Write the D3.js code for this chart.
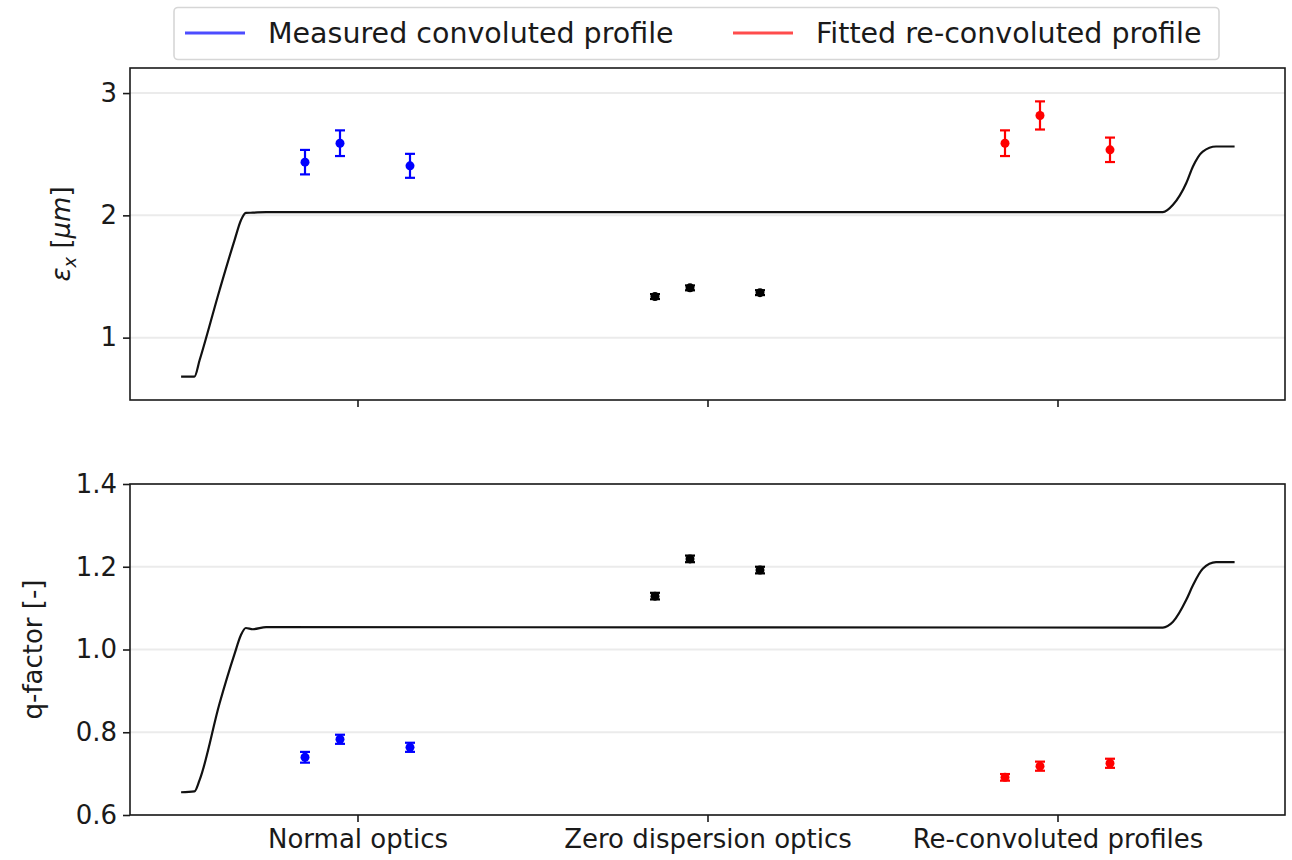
<!DOCTYPE html>
<html>
<head>
<meta charset="utf-8">
<script src="https://cdn.jsdelivr.net/npm/d3@7"></script>
<style>
  body { margin: 0; background: #fff; }
  svg text { font-family: "DejaVu Sans", sans-serif; fill: #1a1a1a; }
</style>
</head>
<body>
<svg id="chart" width="1292" height="860"></svg>
<script>
// categories on the shared x axis
const categories = ["Normal optics", "Zero dispersion optics", "Re-convoluted profiles"];
// offset of the three measurements around each category
const offsets = [-0.15, -0.05, 0.15];

// emittance panel (um)
const emitNormal = [2.435, 2.59, 2.405];
const emitNormalErr = [0.1, 0.105, 0.098];
const emitZero = [1.336, 1.407, 1.368];
const emitZeroErr = [0.02, 0.02, 0.02];
const emitReconv = [2.59, 2.817, 2.536];
const emitReconvErr = [0.105, 0.115, 0.1];

// q-factor panel
const qNormal = [0.7395, 0.783, 0.7636];
const qNormalErr = [0.013, 0.011, 0.011];
const qZero = [1.129, 1.219, 1.192];
const qZeroErr = [0.008, 0.008, 0.008];
const qReconv = [0.691, 0.718, 0.725];
const qReconvErr = [0.008, 0.011, 0.011];

// black profile line
const profileX = [-0.504, -0.466, -0.451, -0.394, -0.351, -0.333, -0.319, -0.299, -0.261, 2.301, 2.33, 2.368, 2.387, 2.415, 2.453, 2.506];
const emitProfile = [0.681, 0.681, 0.817, 1.39, 1.8, 1.96, 2.02, 2.022, 2.026, 2.026, 2.086, 2.264, 2.4, 2.522, 2.563, 2.563];
const qProfile = [0.655, 0.657, 0.685, 0.87, 0.99, 1.035, 1.052, 1.049, 1.054, 1.053, 1.067, 1.12, 1.155, 1.195, 1.211, 1.211];

// tick values
const emitTicks = [1, 2, 3];
const qTicks = [0.6, 0.8, 1.0, 1.2, 1.4];

const legendItems = [
  { label: "Measured convoluted profile", color: "#0000ff" },
  { label: "Fitted re-convoluted profile", color: "#ff0000" },
];

document.addEventListener("DOMContentLoaded", () => {
  const svg = d3.select("#chart");

  //Shared x scale
  const left = 130, right = 1285;
  const xScale = d3.scaleLinear().domain([-0.65, 2.65]).range([left, right]);

  //Panel definitions
  const panels = [
    {
      top: 68, bottom: 400, domain: [0.49, 3.205], ticks: emitTicks,
      fmt: d3.format("d"), profile: emitProfile, labelX: 70, showLabels: false,
      series: [
        { vals: emitNormal, errs: emitNormalErr, color: "#0000ff" },
        { vals: emitZero, errs: emitZeroErr, color: "#000000" },
        { vals: emitReconv, errs: emitReconvErr, color: "#ff0000" },
      ],
    },
    {
      top: 484, bottom: 815, domain: [0.6, 1.4], ticks: qTicks,
      fmt: d3.format(".1f"), profile: qProfile, labelX: 42, showLabels: true,
      series: [
        { vals: qNormal, errs: qNormalErr, color: "#0000ff" },
        { vals: qZero, errs: qZeroErr, color: "#000000" },
        { vals: qReconv, errs: qReconvErr, color: "#ff0000" },
      ],
    },
  ];

  panels.forEach((p, pi) => {
    const yScale = d3.scaleLinear().domain(p.domain).range([p.bottom, p.top]);
    const g = svg.append("g");

    //Grid lines
    g.selectAll(".grid")
      .data(p.ticks)
      .enter()
      .append("line")
      .attr("x1", left)
      .attr("x2", right)
      .attr("y1", (d) => yScale(d))
      .attr("y2", (d) => yScale(d))
      .attr("stroke", "#ebebeb")
      .attr("stroke-width", 2);

    //Profile line
    const line = d3
      .line()
      .x((d) => xScale(d[0]))
      .y((d) => yScale(d[1]))
      .curve(d3.curveMonotoneX);
    g.append("path")
      .datum(profileX.map((x, i) => [x, p.profile[i]]))
      .attr("d", line)
      .attr("fill", "none")
      .attr("stroke", "#111")
      .attr("stroke-width", 2.2);

    //Error bars
    p.series.forEach((s, ci) => {
      const pts = s.vals.map((v, i) => ({ x: ci + offsets[i], v: v, e: s.errs[i] }));
      const eg = g.append("g");
      eg.selectAll(".stem")
        .data(pts)
        .enter()
        .append("line")
        .attr("x1", (d) => xScale(d.x))
        .attr("x2", (d) => xScale(d.x))
        .attr("y1", (d) => yScale(d.v - d.e))
        .attr("y2", (d) => yScale(d.v + d.e))
        .attr("stroke", s.color)
        .attr("stroke-width", 2.2);
      [-1, 1].forEach((sign) => {
        eg.selectAll(".cap" + sign)
          .data(pts)
          .enter()
          .append("line")
          .attr("x1", (d) => xScale(d.x) - 5)
          .attr("x2", (d) => xScale(d.x) + 5)
          .attr("y1", (d) => yScale(d.v + sign * d.e))
          .attr("y2", (d) => yScale(d.v + sign * d.e))
          .attr("stroke", s.color)
          .attr("stroke-width", 2.2);
      });
      eg.selectAll("circle")
        .data(pts)
        .enter()
        .append("circle")
        .attr("cx", (d) => xScale(d.x))
        .attr("cy", (d) => yScale(d.v))
        .attr("r", 4.5)
        .attr("fill", s.color);
    });

    //Axes
    const yAxis = d3.axisLeft(yScale).tickValues(p.ticks).tickFormat(p.fmt).tickSize(7).tickPadding(6);
    const ya = g.append("g").attr("transform", `translate(${left},0)`).call(yAxis);
    const xAxis = d3
      .axisBottom(xScale)
      .tickValues([0, 1, 2])
      .tickFormat((d) => (p.showLabels ? categories[d] : ""))
      .tickSize(7)
      .tickPadding(8);
    const xa = g.append("g").attr("transform", `translate(0,${p.bottom})`).call(xAxis);
    [ya, xa].forEach((a) => {
      a.select(".domain").remove();
      a.selectAll(".tick line").attr("stroke", "#1a1a1a").attr("stroke-width", 1.6);
      a.selectAll("text").attr("font-size", 26).attr("fill", "#1a1a1a");
    });

    //Frame
    g.append("rect")
      .attr("x", left)
      .attr("y", p.top)
      .attr("width", right - left)
      .attr("height", p.bottom - p.top)
      .attr("fill", "none")
      .attr("stroke", "#1a1a1a")
      .attr("stroke-width", 1.6);

    //Y label
    const cy = (p.top + p.bottom) / 2;
    const lab = g
      .append("text")
      .attr("transform", `translate(${p.labelX},${cy}) rotate(-90)`)
      .attr("text-anchor", "middle")
      .attr("font-size", 26);
    if (pi === 0) {
      lab.append("tspan").attr("font-style", "italic").text("ε");
      lab.append("tspan").attr("font-style", "italic").attr("font-size", 18).attr("dy", 6).text("x");
      lab.append("tspan").attr("dy", -6).text(" [");
      lab.append("tspan").attr("font-style", "italic").text("μm");
      lab.append("tspan").text("]");
    } else {
      lab.text("q-factor [-]");
    }
  });

  //Legend
  const lg = svg.append("g");
  lg.append("rect")
    .attr("x", 174)
    .attr("y", 7.5)
    .attr("width", 1045)
    .attr("height", 52)
    .attr("rx", 4)
    .attr("fill", "#fff")
    .attr("stroke", "#d6d6d6")
    .attr("stroke-width", 1.6);
  const legendX = [185, 733];
  legendItems.forEach((item, i) => {
    lg.append("line")
      .attr("x1", legendX[i])
      .attr("x2", legendX[i] + 60)
      .attr("y1", 33)
      .attr("y2", 33)
      .attr("stroke", item.color)
      .attr("stroke-opacity", 0.7)
      .attr("stroke-width", 3);
    lg.append("text")
      .attr("x", legendX[i] + 83)
      .attr("y", 43)
      .attr("font-size", 28.5)
      .text(item.label);
  });
});
</script>
</body>
</html>
